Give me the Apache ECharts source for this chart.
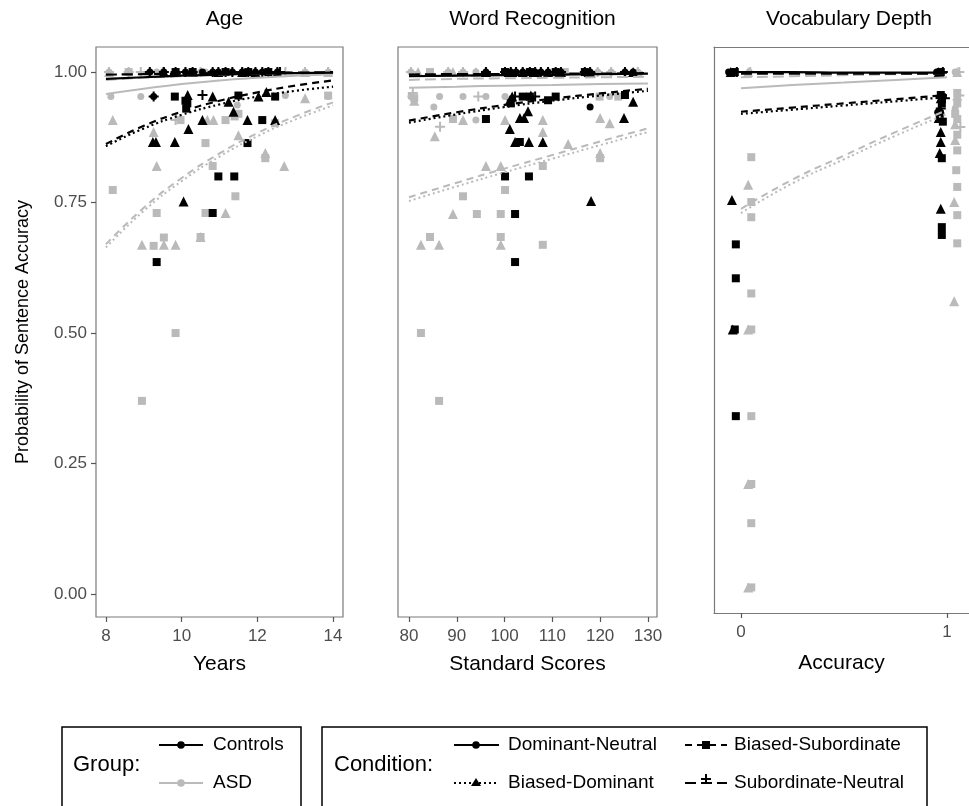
<!DOCTYPE html>
<html>
<head>
  <meta charset="UTF-8">
  <title>Probability of Sentence Accuracy</title>
  <script src="https://cdn.jsdelivr.net/npm/echarts/dist/echarts.min.js"></script>
  <style>
    body { margin: 0; background: #fff; }
    #chart { width: 969px; height: 806px; }
  </style>
</head>
<body>
<div id="chart"></div>
<script>
  // ---- Age panel: points [years, accuracy] ----
  const agePtsCtrlDN = [[9.16,1],[9.53,1],[9.84,1],[10.1,1],[10.29,1],[10.55,1],[10.82,1],[10.97,1],[11.16,1],[11.34,1],[11.6,1],[11.76,1],[11.95,1],[12.13,1],[12.29,1],[12.53,1],[9.26,0.953]];
  const agePtsCtrlBD = [[9.53,1],[10.29,1],[10.97,1],[11.6,1],[11.95,1],[12.53,1],[10.16,0.956],[10.82,0.953],[11.24,0.943],[12.03,0.953],[12.24,0.962],[11.37,0.924],[10.55,0.908],[11.74,0.908],[12.47,0.908],[10.18,0.891],[9.24,0.866],[9.32,0.866],[9.82,0.866],[10.05,0.752]];
  const agePtsCtrlBS = [[9.84,1],[10.29,1],[11.16,1],[11.76,1],[12.29,1],[9.82,0.953],[10.1,0.945],[10.12,0.93],[10.15,0.94],[11.5,0.955],[12.47,0.953],[12.13,0.908],[11.74,0.864],[10.97,0.8],[11.39,0.8],[10.82,0.73],[9.34,0.636]];
  const agePtsCtrlSN = [[9.16,1],[9.53,1],[9.84,1],[10.1,1],[10.29,1],[10.82,1],[10.97,1],[11.16,1],[11.34,1],[11.6,1],[11.76,1],[11.95,1],[12.13,1],[12.29,1],[12.53,1],[12.6,1],[9.26,0.953],[10.55,0.956]];
  const agePtsAsdDN = [[8.08,1],[8.6,1],[9.5,1],[10.5,1],[11.16,1],[13.26,1],[13.87,1],[9.34,1],[10.63,1],[12.21,1],[8.13,0.953],[8.92,0.953],[12.74,0.955],[13.87,0.953],[11.47,0.937]];
  const agePtsAsdBD = [[8.08,1],[9.5,1],[13.26,1],[13.87,1],[8.18,0.908],[10.68,0.908],[10.84,0.908],[9.26,0.885],[11.5,0.879],[13.26,0.95],[12.21,0.845],[9.34,0.82],[12.71,0.82],[11.16,0.73],[8.95,0.669],[9.53,0.669],[9.84,0.669],[10.5,0.684]];
  const agePtsAsdBS = [[8.6,1],[13.87,0.955],[9.97,0.908],[11.16,0.908],[11.4,0.915],[11.5,0.92],[12.47,0.902],[10.63,0.864],[12.21,0.835],[10.82,0.82],[8.18,0.774],[11.42,0.762],[9.34,0.73],[10.63,0.73],[10.66,0.73],[9.53,0.683],[9.26,0.667],[10.5,0.684],[9.84,0.5],[8.95,0.37]];
  const agePtsAsdSN = [[8.08,1],[8.6,1],[9.5,1],[10.5,1],[13.26,1],[13.87,1],[8.92,1],[12.74,1],[9.84,0.908]];

  // ---- Age panel: fitted curves ----
  const ageX = [8, 9, 10, 11, 12, 13, 14];
  const ageFitCtrlDN = [0.987, 0.990, 0.993, 0.995, 0.997, 0.998, 0.999];
  const ageFitCtrlBD = [0.858, 0.892, 0.918, 0.938, 0.953, 0.964, 0.972];
  const ageFitCtrlBS = [0.862, 0.897, 0.924, 0.945, 0.961, 0.974, 0.984];
  const ageFitCtrlSN = [0.995, 0.996, 0.997, 0.998, 0.999, 0.999, 1.000];
  const ageFitAsdDN = [0.958, 0.968, 0.977, 0.984, 0.989, 0.993, 0.996];
  const ageFitAsdBD = [0.664, 0.734, 0.791, 0.838, 0.877, 0.909, 0.936];
  const ageFitAsdBS = [0.670, 0.740, 0.797, 0.844, 0.883, 0.915, 0.942];
  const ageFitAsdSN = [0.985, 0.989, 0.992, 0.995, 0.997, 0.998, 0.999];

  // ---- Word Recognition panel: points [standard score, accuracy] ----
  const wrPtsCtrlDN = [[96.1,1],[100.1,1],[101.3,1],[102.4,1],[103.8,1],[105.3,1],[106.4,1],[107.6,1],[109.1,1],[110.7,1],[111.8,1],[116.8,1],[117.9,1],[125.2,1],[126.9,1],[117.9,0.933],[125.2,0.956]];
  const wrPtsCtrlBD = [[96.1,1],[101.3,1],[103.8,1],[106.4,1],[109.1,1],[111.8,1],[117.9,1],[126.9,1],[101.6,0.953],[105.5,0.955],[101.1,0.946],[104.9,0.925],[103.2,0.912],[104.1,0.912],[101.1,0.891],[102.2,0.866],[105.1,0.866],[108,0.866],[126.9,0.943],[125,0.912],[118.1,0.753]];
  const wrPtsCtrlBS = [[100.1,1],[105.3,1],[110.7,1],[116.8,1],[103.8,0.953],[105.3,0.953],[109.1,0.946],[110.7,0.953],[125.2,0.956],[101.3,0.94],[96.1,0.91],[103.2,0.866],[100.1,0.8],[105.1,0.8],[102.2,0.728],[102.2,0.636]];
  const wrPtsCtrlSN = [[96.1,1],[100.1,1],[101.3,1],[102.4,1],[103.8,1],[105.3,1],[106.4,1],[107.6,1],[109.1,1],[110.7,1],[111.8,1],[116.8,1],[117.9,1],[125.2,1],[102.2,0.953],[106.4,0.953]];
  const wrPtsAsdDN = [[80.4,1],[84.4,1],[88.2,1],[91.3,1],[94,1],[112.6,1],[119.5,1],[122.3,1],[127.9,1],[80.4,0.953],[86.4,0.953],[91.3,0.953],[96.1,0.953],[100.1,0.953],[122,0.953],[85.2,0.933],[94,0.908]];
  const wrPtsAsdBD = [[81.9,1],[89.2,1],[94,1],[127.9,1],[81.1,0.945],[91.3,0.908],[100.1,0.908],[108,0.908],[85.4,0.877],[108,0.885],[120,0.912],[122,0.902],[113.3,0.862],[120,0.845],[96.1,0.82],[99.2,0.82],[89.2,0.728],[82.5,0.669],[86.3,0.669],[99.2,0.669]];
  const wrPtsAsdBS = [[84.4,1],[112.6,1],[81.1,0.95],[119.9,0.953],[123.8,0.953],[89.2,0.91],[120,0.835],[108,0.82],[100.1,0.774],[91.3,0.762],[94.2,0.728],[99.2,0.728],[84.4,0.684],[99.2,0.684],[108,0.669],[82.5,0.5],[86.3,0.37]];
  const wrPtsAsdSN = [[80.4,1],[88.2,1],[91.3,1],[119.5,1],[122.3,1],[127.9,1],[80.8,0.96],[94.5,0.953],[86.5,0.895]];

  // ---- Word Recognition panel: fitted curves ----
  const wrX = [80, 90, 100, 110, 120, 130];
  const wrFitCtrlDN = [0.992, 0.993, 0.994, 0.995, 0.996, 0.997];
  const wrFitCtrlBD = [0.903, 0.919, 0.933, 0.945, 0.955, 0.964];
  const wrFitCtrlBS = [0.907, 0.923, 0.937, 0.949, 0.959, 0.968];
  const wrFitCtrlSN = [0.995, 0.996, 0.996, 0.997, 0.997, 0.998];
  const wrFitAsdDN = [0.970, 0.972, 0.974, 0.975, 0.977, 0.978];
  const wrFitAsdBD = [0.753, 0.781, 0.808, 0.834, 0.860, 0.885];
  const wrFitAsdBS = [0.760, 0.788, 0.815, 0.841, 0.867, 0.892];
  const wrFitAsdSN = [0.985, 0.987, 0.988, 0.989, 0.990, 0.991];

  // ---- Vocabulary Depth panel: points [accuracy (jittered), sentence accuracy] ----
  const vdPtsCtrlDN = [[-0.06,1],[-0.04,1],[0.96,1],[0.97,1],[0.95,1],[0.955,0.923]];
  const vdPtsCtrlBD = [[-0.05,1],[0.96,1],[-0.044,0.755],[-0.04,0.507],[0.97,0.95],[0.965,0.93],[0.97,0.885],[0.97,0.866],[0.965,0.845],[0.97,0.738],[0.96,0.912]];
  const vdPtsCtrlBS = [[-0.03,1],[0.97,1],[0.97,0.956],[0.975,0.94],[0.965,0.92],[0.98,0.905],[0.975,0.835],[0.975,0.703],[0.975,0.688],[-0.025,0.67],[-0.025,0.605],[-0.03,0.507],[-0.025,0.341]];
  const vdPtsCtrlSN = [[-0.02,1],[0.98,1],[0.99,0.95],[0.97,0.93]];
  const vdPtsAsdDN = [[0.04,1],[1.04,1],[1.05,0.95],[1.04,0.93]];
  const vdPtsAsdBD = [[0.035,1],[1.05,1],[0.035,0.784],[0.035,0.507],[0.035,0.211],[0.035,0.013],[1.04,0.9],[1.04,0.87],[1.035,0.751],[1.035,0.561],[1.05,0.955]];
  const vdPtsAsdBS = [[0.05,0.837],[0.05,0.751],[0.05,0.722],[0.05,0.576],[0.05,0.507],[0.05,0.341],[0.05,0.211],[0.05,0.136],[0.05,0.013],[1.05,0.96],[1.05,0.94],[1.04,0.92],[1.05,0.91],[1.05,0.88],[1.05,0.85],[1.045,0.812],[1.05,0.78],[1.05,0.726],[1.05,0.672]];
  const vdPtsAsdSN = [[0.045,1],[1.06,1],[1.06,0.955],[1.065,0.895]];

  // ---- Vocabulary Depth panel: fitted curves ----
  const vdX = [0, 0.25, 0.5, 0.75, 1];
  const vdFitCtrlDN = [1.0, 1.0, 0.999, 0.999, 0.999];
  const vdFitCtrlBD = [0.920, 0.928, 0.936, 0.944, 0.952];
  const vdFitCtrlBS = [0.924, 0.932, 0.940, 0.948, 0.956];
  const vdFitCtrlSN = [0.997, 0.997, 0.997, 0.997, 0.997];
  const vdFitAsdDN = [0.969, 0.975, 0.980, 0.985, 0.990];
  const vdFitAsdBD = [0.730, 0.787, 0.833, 0.878, 0.920];
  const vdFitAsdBS = [0.738, 0.794, 0.840, 0.885, 0.927];
  const vdFitAsdSN = [0.990, 0.992, 0.994, 0.996, 0.998];

  const panelTitles = ['Age', 'Word Recognition', 'Vocabulary Depth'];
  const xNames = ['Years', 'Standard Scores', 'Accuracy'];
  const xTicks = [[8, 10, 12, 14], [80, 90, 100, 110, 120, 130], [0, 1]];
  const yTicks = [0, 0.25, 0.5, 0.75, 1];

  const BLACK = '#000000';
  const GREY = '#bababa';
  const BORDER = '#7a7a7a';
  const PLUS = 'path://M4,0L6,0L6,4L10,4L10,6L6,6L6,10L4,10L4,6L0,6L0,4L4,4Z';
  // symbol + size per condition
  const shapes = {
    DN: ['circle', 7],
    BD: ['triangle', 10],
    BS: ['rect', 8],
    SN: [PLUS, 10]
  };
  const dashes = { DN: 'solid', BD: [2, 3], BS: [7, 5], SN: [11, 5] };

  const chart = echarts.init(document.getElementById('chart'), null, { renderer: 'canvas' });

  function pts(data, idx, color, cond) {
    return {
      type: 'scatter', xAxisIndex: idx, yAxisIndex: idx, data: data,
      symbol: shapes[cond][0], symbolSize: shapes[cond][1],
      itemStyle: { color: color, opacity: 1 }, silent: true, z: 2
    };
  }
  function fit(xs, ys, idx, color, cond) {
    return {
      type: 'line', xAxisIndex: idx, yAxisIndex: idx,
      data: xs.map(function (x, i) { return [x, ys[i]]; }),
      smooth: true, showSymbol: false, silent: true, z: 3,
      lineStyle: { color: color, width: color === BLACK ? 2.2 : 2, type: dashes[cond] }
    };
  }

  const series = [
    // grey points, then black points
    pts(agePtsAsdDN, 0, GREY, 'DN'), pts(agePtsAsdBD, 0, GREY, 'BD'), pts(agePtsAsdBS, 0, GREY, 'BS'), pts(agePtsAsdSN, 0, GREY, 'SN'),
    pts(agePtsCtrlDN, 0, BLACK, 'DN'), pts(agePtsCtrlBD, 0, BLACK, 'BD'), pts(agePtsCtrlBS, 0, BLACK, 'BS'), pts(agePtsCtrlSN, 0, BLACK, 'SN'),
    pts(wrPtsAsdDN, 1, GREY, 'DN'), pts(wrPtsAsdBD, 1, GREY, 'BD'), pts(wrPtsAsdBS, 1, GREY, 'BS'), pts(wrPtsAsdSN, 1, GREY, 'SN'),
    pts(wrPtsCtrlDN, 1, BLACK, 'DN'), pts(wrPtsCtrlBD, 1, BLACK, 'BD'), pts(wrPtsCtrlBS, 1, BLACK, 'BS'), pts(wrPtsCtrlSN, 1, BLACK, 'SN'),
    pts(vdPtsAsdDN, 2, GREY, 'DN'), pts(vdPtsAsdBD, 2, GREY, 'BD'), pts(vdPtsAsdBS, 2, GREY, 'BS'), pts(vdPtsAsdSN, 2, GREY, 'SN'),
    pts(vdPtsCtrlDN, 2, BLACK, 'DN'), pts(vdPtsCtrlBD, 2, BLACK, 'BD'), pts(vdPtsCtrlBS, 2, BLACK, 'BS'), pts(vdPtsCtrlSN, 2, BLACK, 'SN'),
    // grey curves, then black curves
    fit(ageX, ageFitAsdDN, 0, GREY, 'DN'), fit(ageX, ageFitAsdBD, 0, GREY, 'BD'), fit(ageX, ageFitAsdBS, 0, GREY, 'BS'), fit(ageX, ageFitAsdSN, 0, GREY, 'SN'),
    fit(ageX, ageFitCtrlDN, 0, BLACK, 'DN'), fit(ageX, ageFitCtrlBD, 0, BLACK, 'BD'), fit(ageX, ageFitCtrlBS, 0, BLACK, 'BS'), fit(ageX, ageFitCtrlSN, 0, BLACK, 'SN'),
    fit(wrX, wrFitAsdDN, 1, GREY, 'DN'), fit(wrX, wrFitAsdBD, 1, GREY, 'BD'), fit(wrX, wrFitAsdBS, 1, GREY, 'BS'), fit(wrX, wrFitAsdSN, 1, GREY, 'SN'),
    fit(wrX, wrFitCtrlDN, 1, BLACK, 'DN'), fit(wrX, wrFitCtrlBD, 1, BLACK, 'BD'), fit(wrX, wrFitCtrlBS, 1, BLACK, 'BS'), fit(wrX, wrFitCtrlSN, 1, BLACK, 'SN'),
    fit(vdX, vdFitAsdDN, 2, GREY, 'DN'), fit(vdX, vdFitAsdBD, 2, GREY, 'BD'), fit(vdX, vdFitAsdBS, 2, GREY, 'BS'), fit(vdX, vdFitAsdSN, 2, GREY, 'SN'),
    fit(vdX, vdFitCtrlDN, 2, BLACK, 'DN'), fit(vdX, vdFitCtrlBD, 2, BLACK, 'BD'), fit(vdX, vdFitCtrlBS, 2, BLACK, 'BS'), fit(vdX, vdFitCtrlSN, 2, BLACK, 'SN')
  ];

  const FONT = 'Liberation Sans, Arial, Helvetica, sans-serif';
  // third panel is cut by the right edge of the picture: no frame there,
  // its left/bottom/top edges come from axis lines instead
  const grids = [
    { left: 96, top: 47, width: 247, height: 570, show: true },
    { left: 398, top: 47, width: 259, height: 570, show: true },
    { left: 714, top: 47, width: 255, height: 566, show: false }
  ];
  const xRanges = [[7.737, 14.263], [77.7, 131.9], [-0.131, 1.107]];
  const yRanges = [[-0.044, 1.048], [-0.044, 1.048], [-0.036, 1.048]];
  const nameGaps = [37, 37, 40];

  const xAxes = xNames.map(function (n, i) {
    return {
      type: 'value', gridIndex: i, min: xRanges[i][0], max: xRanges[i][1], position: 'bottom',
      name: n, nameLocation: 'middle', nameGap: nameGaps[i],
      nameTextStyle: { fontFamily: FONT, fontSize: 21, color: '#000' },
      splitLine: { show: false },
      axisLine: { show: i === 2, onZero: false, lineStyle: { color: BORDER, width: 1.2 } },
      axisTick: { show: true, length: 5, customValues: xTicks[i], lineStyle: { color: '#555', width: 1.2 } },
      axisLabel: { show: true, margin: 11, customValues: xTicks[i], fontFamily: FONT, fontSize: 17, color: '#4d4d4d' }
    };
  });
  // top edge of the third panel
  xAxes.push({
    type: 'value', gridIndex: 2, min: xRanges[2][0], max: xRanges[2][1], position: 'top',
    splitLine: { show: false }, axisTick: { show: false }, axisLabel: { show: false },
    axisLine: { show: true, onZero: false, lineStyle: { color: BORDER, width: 1.2 } }
  });

  const option = {
    animation: false,
    backgroundColor: '#ffffff',
    textStyle: { fontFamily: FONT },
    title: panelTitles.map(function (t, i) {
      return {
        text: t, top: 4, left: i === 2 ? 844 : grids[i].left + grids[i].width / 2, textAlign: 'center',
        textStyle: { fontFamily: FONT, fontSize: 21, fontWeight: 'normal', color: '#000' }
      };
    }),
    grid: grids.map(function (g) {
      return Object.assign({ borderColor: BORDER, borderWidth: 1.2, backgroundColor: 'transparent' }, g);
    }),
    xAxis: xAxes,
    yAxis: [0, 1, 2].map(function (i) {
      return {
        type: 'value', gridIndex: i, min: yRanges[i][0], max: yRanges[i][1], position: 'left',
        name: i === 0 ? 'Probability of Sentence Accuracy' : '', nameLocation: 'middle', nameGap: 64,
        nameTextStyle: { fontFamily: FONT, fontSize: 18, color: '#000' },
        splitLine: { show: false },
        axisLine: { show: i === 2, onZero: false, lineStyle: { color: BORDER, width: 1.2 } },
        axisTick: { show: i === 0, length: 5, customValues: yTicks, lineStyle: { color: '#555', width: 1.2 } },
        axisLabel: {
          show: i === 0, margin: 9, customValues: yTicks, fontFamily: FONT, fontSize: 17, color: '#4d4d4d',
          formatter: function (v) { return v.toFixed(2); }
        }
      };
    }),
    series: series,
    graphic: [
      // Group legend box
      { type: 'rect', shape: { x: 62, y: 727, width: 239, height: 100 }, style: { fill: '#fff', stroke: '#000', lineWidth: 1.5 } },
      { type: 'text', x: 73, y: 765, style: { text: 'Group:', font: '22px ' + FONT, fill: '#000', verticalAlign: 'middle' } },
      { type: 'line', shape: { x1: 159, y1: 745, x2: 203, y2: 745 }, style: { stroke: BLACK, lineWidth: 2 } },
      { type: 'circle', shape: { cx: 181, cy: 745, r: 3.8 }, style: { fill: BLACK } },
      { type: 'text', x: 213, y: 745, style: { text: 'Controls', font: '19px ' + FONT, fill: '#000', verticalAlign: 'middle' } },
      { type: 'line', shape: { x1: 159, y1: 783, x2: 203, y2: 783 }, style: { stroke: GREY, lineWidth: 2 } },
      { type: 'circle', shape: { cx: 181, cy: 783, r: 3.8 }, style: { fill: GREY } },
      { type: 'text', x: 213, y: 783, style: { text: 'ASD', font: '19px ' + FONT, fill: '#000', verticalAlign: 'middle' } },
      // Condition legend box
      { type: 'rect', shape: { x: 322, y: 727, width: 605, height: 100 }, style: { fill: '#fff', stroke: '#000', lineWidth: 1.5 } },
      { type: 'text', x: 334, y: 765, style: { text: 'Condition:', font: '22px ' + FONT, fill: '#000', verticalAlign: 'middle' } },
      { type: 'line', shape: { x1: 454, y1: 745, x2: 499, y2: 745 }, style: { stroke: BLACK, lineWidth: 2 } },
      { type: 'circle', shape: { cx: 476, cy: 745, r: 3.8 }, style: { fill: BLACK } },
      { type: 'text', x: 508, y: 745, style: { text: 'Dominant-Neutral', font: '19px ' + FONT, fill: '#000', verticalAlign: 'middle' } },
      { type: 'line', shape: { x1: 454, y1: 783, x2: 499, y2: 783 }, style: { stroke: BLACK, lineWidth: 2, lineDash: [2, 3] } },
      { type: 'polygon', shape: { points: [[476, 778], [481, 786], [471, 786]] }, style: { fill: BLACK } },
      { type: 'text', x: 508, y: 783, style: { text: 'Biased-Dominant', font: '19px ' + FONT, fill: '#000', verticalAlign: 'middle' } },
      { type: 'line', shape: { x1: 685, y1: 745, x2: 727, y2: 745 }, style: { stroke: BLACK, lineWidth: 2, lineDash: [7, 5] } },
      { type: 'rect', shape: { x: 702, y: 741, width: 8, height: 8 }, style: { fill: BLACK } },
      { type: 'text', x: 734, y: 745, style: { text: 'Biased-Subordinate', font: '19px ' + FONT, fill: '#000', verticalAlign: 'middle' } },
      { type: 'line', shape: { x1: 685, y1: 783, x2: 727, y2: 783 }, style: { stroke: BLACK, lineWidth: 2, lineDash: [11, 5] } },
      { type: 'rect', shape: { x: 701, y: 778, width: 10, height: 2 }, style: { fill: BLACK } },
      { type: 'rect', shape: { x: 705, y: 774, width: 2, height: 10 }, style: { fill: BLACK } },
      { type: 'text', x: 734, y: 783, style: { text: 'Subordinate-Neutral', font: '19px ' + FONT, fill: '#000', verticalAlign: 'middle' } }
    ]
  };

  chart.setOption(option);
  window.addEventListener('resize', chart.resize);
</script>
</body>
</html>
